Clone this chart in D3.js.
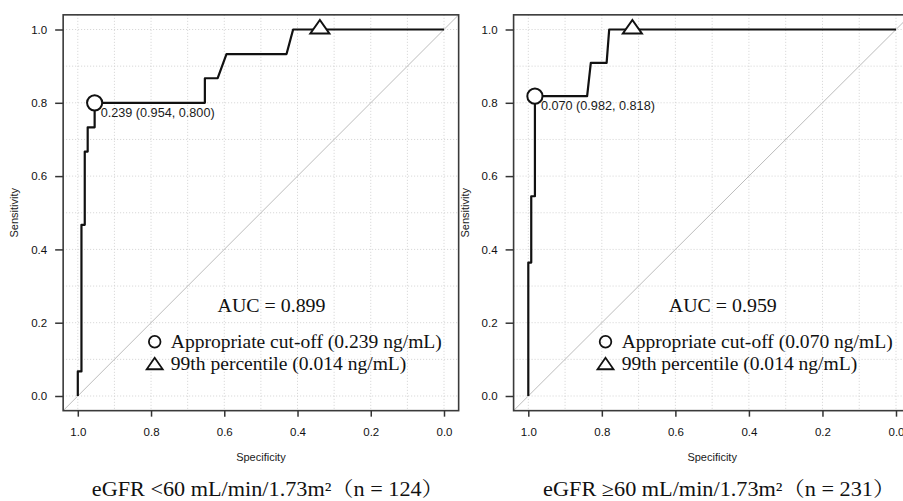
<!DOCTYPE html>
<html>
<head>
<meta charset="utf-8">
<script src="https://cdn.jsdelivr.net/npm/d3@7/dist/d3.min.js"></script>
<style>
  html, body { margin: 0; padding: 0; background: #fff; }
  svg { display: block; }
</style>
</head>
<body>
<script>
// ---------------- DATA ----------------
const panelTitles = ["eGFR <60 mL/min/1.73m\u00B2\uFF08n = 124\uFF09", "eGFR \u226560 mL/min/1.73m\u00B2\uFF08n = 231\uFF09"];
const aucLabels = ["AUC = 0.899", "AUC = 0.959"];
const cutoffLegend = ["Appropriate cut-off (0.239 ng/mL)", "Appropriate cut-off (0.070 ng/mL)"];
const percentileLegend = ["99th percentile (0.014 ng/mL)", "99th percentile (0.014 ng/mL)"];
const cutoffLabels = ["0.239 (0.954, 0.800)", "0.070 (0.982, 0.818)"];
const cutoffSpec = [0.954, 0.982];
const cutoffSens = [0.800, 0.818];
const percentileSpec = [0.339, 0.717];
const percentileSens = [1.0, 1.0];

// ROC curve (left panel, eGFR < 60)
const leftSpec = [1.0, 1.0, 0.990, 0.990, 0.981, 0.981, 0.973, 0.973, 0.954, 0.954, 0.653, 0.653, 0.618, 0.594, 0.430, 0.412, 0.0];
const leftSens = [0.0, 0.067, 0.067, 0.467, 0.467, 0.667, 0.667, 0.733, 0.733, 0.800, 0.800, 0.867, 0.867, 0.933, 0.933, 1.0, 1.0];
// ROC curve (right panel, eGFR >= 60)
const rightSpec = [1.0, 1.0, 0.992, 0.992, 0.982, 0.982, 0.840, 0.830, 0.787, 0.780, 0.0];
const rightSens = [0.0, 0.364, 0.364, 0.545, 0.545, 0.818, 0.818, 0.909, 0.909, 1.0, 1.0];

const axisTicks = [0.0, 0.2, 0.4, 0.6, 0.8, 1.0];
const gridTicks = [0.0, 0.1, 0.2, 0.3, 0.4, 0.5, 0.6, 0.7, 0.8, 0.9, 1.0];
const xAxisTitle = "Specificity";
const yAxisTitle = "Sensitivity";

// ---------------- DRAW ----------------
const W = 903, H = 501;
const svg = d3.select("body").append("svg").attr("width", W).attr("height", H);

const panels = [
  { xr: [77.8, 444.0], spec: leftSpec, sens: leftSens, i: 0 },
  { xr: [528.3, 896.0], spec: rightSpec, sens: rightSens, i: 1 }
];
const yRange = [396, 29.5];
const sansFont = "'Liberation Sans', Arial, Helvetica, sans-serif";
const serifFont = "'Liberation Serif', 'Times New Roman', 'Noto Serif CJK JP', 'Noto Sans CJK JP', serif";

panels.forEach(p => {
  const i = p.i;
  const x = d3.scaleLinear().domain([1, 0]).range(p.xr);
  const y = d3.scaleLinear().domain([0, 1]).range(yRange);
  const g = svg.append("g");

  const bx0 = x(1.04), bx1 = x(-0.04), by0 = y(1.04), by1 = y(-0.04);

  // grid
  const grid = g.append("g").attr("stroke", "#d2d2d2").attr("stroke-width", 1).attr("stroke-dasharray", "1,2");
  grid.selectAll("line.v").data(gridTicks).join("line")
    .attr("x1", d => x(d)).attr("x2", d => x(d)).attr("y1", by0).attr("y2", by1);
  grid.selectAll("line.h").data(gridTicks).join("line")
    .attr("x1", bx0).attr("x2", bx1).attr("y1", d => y(d)).attr("y2", d => y(d));

  // diagonal reference
  g.append("line")
    .attr("x1", x(1.04)).attr("y1", y(-0.04)).attr("x2", x(-0.04)).attr("y2", y(1.04))
    .attr("stroke", "#bcbcbc").attr("stroke-width", 1);

  // ROC curve
  const pts = p.spec.map((s, k) => [s, p.sens[k]]);
  g.append("path").datum(pts)
    .attr("d", d3.line().x(d => x(d[0])).y(d => y(d[1])))
    .attr("fill", "none").attr("stroke", "#111").attr("stroke-width", 2.2)
    .attr("stroke-linejoin", "round");

  // box
  g.append("rect").attr("x", bx0).attr("y", by0).attr("width", bx1 - bx0).attr("height", by1 - by0)
    .attr("fill", "none").attr("stroke", "#3a3a3a").attr("stroke-width", 1.6);

  // axes
  const ya = g.append("g").attr("transform", `translate(${bx0},0)`)
    .call(d3.axisLeft(y).tickValues(axisTicks).tickFormat(d3.format(".1f")).tickSize(8).tickPadding(8));
  const xa = g.append("g").attr("transform", `translate(0,${by1})`)
    .call(d3.axisBottom(x).tickValues(axisTicks).tickFormat(d3.format(".1f")).tickSize(6).tickPadding(11));
  [ya, xa].forEach(a => {
    a.select(".domain").remove();
    a.selectAll(".tick line").attr("stroke", "#333").attr("stroke-width", 1.5);
    a.selectAll(".tick text").attr("fill", "#111").style("font-family", sansFont).style("font-size", "11.5px");
  });

  // axis titles
  g.append("text").attr("x", x(0.5)).attr("y", 460.5).attr("text-anchor", "middle")
    .style("font-family", sansFont).style("font-size", "11px").attr("fill", "#1a1a1a").text(xAxisTitle);
  g.append("text").attr("transform", `translate(${bx0 - 45},${(by0 + by1) / 2}) rotate(-90)`)
    .attr("text-anchor", "middle")
    .style("font-family", sansFont).style("font-size", "11px").attr("fill", "#1a1a1a").text(yAxisTitle);

  // cut-off marker (circle) and threshold label
  const cx = x(cutoffSpec[i]), cy = y(cutoffSens[i]);
  g.append("circle").attr("cx", cx).attr("cy", cy).attr("r", 7.6)
    .attr("fill", "#fff").attr("stroke", "#111").attr("stroke-width", 2);
  g.append("text").attr("x", cx + 6).attr("y", cy + 14)
    .attr("textLength", 114).attr("lengthAdjust", "spacingAndGlyphs")
    .style("font-family", sansFont).style("font-size", "12px").attr("fill", "#1a1a1a").text(cutoffLabels[i]);

  // 99th percentile marker (triangle)
  const tx = x(percentileSpec[i]), ty = y(percentileSens[i]);
  g.append("path")
    .attr("d", `M${tx},${ty - 9.5} L${tx - 9.5},${ty + 4} L${tx + 9.5},${ty + 4} Z`)
    .attr("fill", "#fff").attr("stroke", "#111").attr("stroke-width", 2).attr("stroke-linejoin", "miter");

  // AUC text
  g.append("text").attr("x", x(0.471)).attr("y", y(0.23)).attr("text-anchor", "middle")
    .attr("textLength", 108).attr("lengthAdjust", "spacingAndGlyphs")
    .style("font-family", serifFont).style("font-size", "18px").attr("fill", "#111").text(aucLabels[i]);

  // legend
  const lx = x(0.79);
  g.append("circle").attr("cx", lx).attr("cy", y(0.148)).attr("r", 5.8)
    .attr("fill", "none").attr("stroke", "#111").attr("stroke-width", 1.8);
  const ty2 = y(0.088);
  g.append("path")
    .attr("d", `M${lx},${ty2 - 6} L${lx - 8},${ty2 + 5.5} L${lx + 8},${ty2 + 5.5} Z`)
    .attr("fill", "none").attr("stroke", "#111").attr("stroke-width", 1.8);
  g.append("text").attr("x", x(0.746)).attr("y", y(0.131))
    .attr("textLength", 271).attr("lengthAdjust", "spacingAndGlyphs")
    .style("font-family", serifFont).style("font-size", "18px").attr("fill", "#111").text(cutoffLegend[i]);
  g.append("text").attr("x", x(0.746)).attr("y", y(0.071))
    .attr("textLength", 235.5).attr("lengthAdjust", "spacingAndGlyphs")
    .style("font-family", serifFont).style("font-size", "18px").attr("fill", "#111").text(percentileLegend[i]);

  // panel title below
  g.append("text").attr("x", x(0.481)).attr("y", 495.5)
    .attr("text-anchor", "middle")
    .attr("textLength", 352).attr("lengthAdjust", "spacingAndGlyphs")
    .style("font-family", serifFont).style("font-size", "20px").attr("fill", "#111").text(panelTitles[i]);
});
</script>
</body>
</html>
